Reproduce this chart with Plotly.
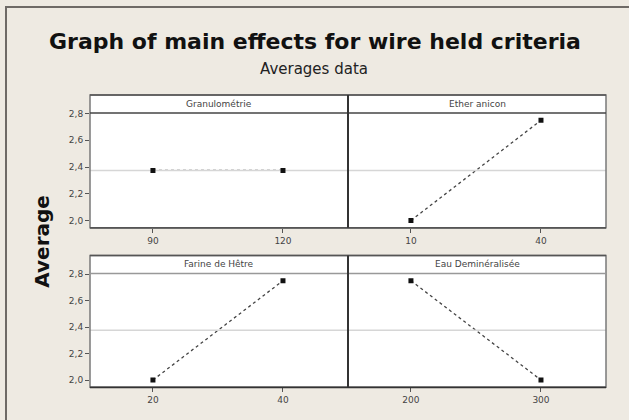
import plotly.graph_objects as go

# ---- data ----
factors = ["Granulométrie", "Ether anicon", "Farine de Hêtre", "Eau Deminéralisée"]
levels = [["90", "120"], ["10", "40"], ["20", "40"], ["200", "300"]]
means = [[2.375, 2.375], [2.0, 2.75], [2.0, 2.75], [2.75, 2.0]]
grand_mean = 2.375
y_ticks = [2.0, 2.2, 2.4, 2.6, 2.8]
y_ticktext = ["2,0", "2,2", "2,4", "2,6", "2,8"]

W, H = 629, 420
def px(x): return x / W
def py(y): return 1 - y / H

BG = "#eeeae2"
fig = go.Figure()

cols = [(90, 348), (348, 606)]
rows = [(110, 226, 92), (272, 387, 254)]  # data top, data bottom, strip top

layout = {}
for i in range(4):
    r, c = divmod(i, 2)
    x0, x1 = cols[c]
    yt, yb, ys = rows[r]
    n = i + 1
    xa = "x" if n == 1 else f"x{n}"
    ya = "y" if n == 1 else f"y{n}"
    xk = "xaxis" if n == 1 else f"xaxis{n}"
    yk = "yaxis" if n == 1 else f"yaxis{n}"
    cats = [0, 1]
    fig.add_trace(go.Scatter(x=cats, y=means[i], mode="lines", xaxis=xa, yaxis=ya,
                             line=dict(color="#444444", width=1.3, dash="dot"),
                             showlegend=False, hoverinfo="skip"))
    fig.add_trace(go.Scatter(x=[-1, 2], y=[grand_mean, grand_mean], mode="lines", xaxis=xa, yaxis=ya,
                             line=dict(color="#d6d6d6", width=1.5),
                             showlegend=False, hoverinfo="skip"))
    fig.add_trace(go.Scatter(x=cats, y=means[i], mode="markers", xaxis=xa, yaxis=ya,
                             marker=dict(color="#111111", size=5, symbol="square"),
                             showlegend=False))
    layout[xk] = dict(domain=[px(x0), px(x1)], anchor=ya, range=[-0.484, 1.5],
                      tickvals=cats, ticktext=levels[i], ticks="outside", ticklen=4,
                      tickcolor="#555", tickfont=dict(size=9, color="#444", family="DejaVu Sans"),
                      showgrid=False, zeroline=False, showline=False, fixedrange=True)
    layout[yk] = dict(domain=[py(yb), py(yt)], anchor=xa, range=[1.945, 2.805],
                      tickvals=y_ticks, ticktext=y_ticktext if c == 0 else [""] * 5,
                      ticks="outside" if c == 0 else "", ticklen=4, tickcolor="#555",
                      tickfont=dict(size=9, color="#444", family="DejaVu Sans"),
                      showgrid=False, zeroline=False, showline=False, fixedrange=True)

shapes = []
annotations = []
for r, (yt, yb, ys) in enumerate(rows):
    shapes.append(dict(type="rect", xref="paper", yref="paper", layer="below",
                       x0=px(90), x1=px(606), y0=py(yb), y1=py(ys),
                       fillcolor="white", line=dict(width=0)))
for r, (yt, yb, ys) in enumerate(rows):
    shapes.append(dict(type="rect", xref="paper", yref="paper",
                       x0=px(90), x1=px(606), y0=py(yb), y1=py(ys),
                       line=dict(color="#7a7a7a", width=1.5)))
    shapes.append(dict(type="line", xref="paper", yref="paper",
                       x0=px(90), x1=px(606), y0=py(yt), y1=py(yt),
                       line=dict(color="#444" if r == 0 else "#999", width=1.5)))
    shapes.append(dict(type="line", xref="paper", yref="paper",
                       x0=px(90), x1=px(606), y0=py(ys), y1=py(ys),
                       line=dict(color="#555", width=1.5)))
    shapes.append(dict(type="line", xref="paper", yref="paper",
                       x0=px(90), x1=px(606), y0=py(yb), y1=py(yb),
                       line=dict(color="#555" if r == 0 else "#333", width=1.8)))
    shapes.append(dict(type="line", xref="paper", yref="paper",
                       x0=px(348), x1=px(348), y0=py(yb), y1=py(ys),
                       line=dict(color="#333", width=2)))
    for c, (x0, x1) in enumerate(cols):
        annotations.append(dict(text=factors[r * 2 + c], xref="paper", yref="paper",
                                x=px((x0 + x1) / 2), y=py((ys + yt) / 2),
                                xanchor="center", yanchor="middle", showarrow=False,
                                font=dict(size=9, color="#444", family="DejaVu Sans")))

shapes.append(dict(type="rect", xref="paper", yref="paper",
                   x0=px(6), x1=px(640), y0=py(430), y1=py(3),
                   line=dict(color="#6e6a66", width=2)))

annotations += [
    dict(text="<b>Graph of main effects for wire held criteria</b>", xref="paper", yref="paper",
         x=px(315), y=py(38), xanchor="center", yanchor="middle", showarrow=False,
         font=dict(size=22, color="#111", family="DejaVu Sans")),
    dict(text="Averages data", xref="paper", yref="paper",
         x=px(314), y=py(66), xanchor="center", yanchor="middle", showarrow=False,
         font=dict(size=15, color="#222", family="DejaVu Sans")),
    dict(text="<b>Average</b>", xref="paper", yref="paper", textangle=-90,
         x=px(42), y=py(240), xanchor="center", yanchor="middle", showarrow=False,
         font=dict(size=20, color="#111", family="DejaVu Sans")),
]

fig.update_layout(width=W, height=H, margin=dict(l=0, r=0, t=0, b=0),
                  paper_bgcolor=BG, plot_bgcolor="white",
                  shapes=shapes, annotations=annotations, **layout)

fig.write_html("out.html", config={"displayModeBar": False},
               post_script="document.body.style.margin='0px';")
